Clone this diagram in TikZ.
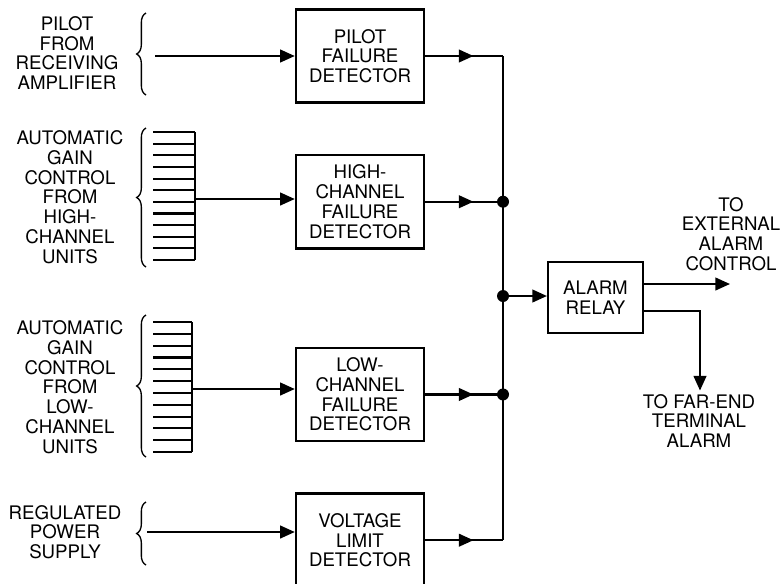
\documentclass[tikz,border=0pt]{standalone}
\usepackage{fontspec}
\setmainfont{TeX Gyre Heros}
\usetikzlibrary{positioning,arrows.meta,calc,decorations.pathreplacing,decorations.markings}

\begin{document}
\begin{tikzpicture}[x=0.75pt, y=-0.75pt, font=\fontsize{14}{14.8}\selectfont, line width=1.6pt,
  box/.style={draw, line width=1.8pt, align=center, minimum width=96pt, minimum height=70pt, inner sep=2pt},
  relaybox/.style={draw, line width=1.8pt, align=center, minimum width=71pt, minimum height=53pt, inner sep=2pt},
  lbl/.style={align=center, inner sep=2pt},
  arr/.style={-{Triangle[length=11pt, width=9.5pt]}},
  midarr/.style={postaction={decorate}, decoration={markings, mark=at position #1 with {\arrow{Triangle[length=11pt, width=9.5pt]}}}},
  brc/.style={decorate, decoration={brace, amplitude=7pt}, line width=1pt},
  jdot/.style={circle, fill, inner sep=0pt, minimum size=9pt}]
\useasboundingbox (0,0) rectangle (782,583);
% detectors
\node[box] (pilot) at (360,56) {PILOT\\FAILURE\\DETECTOR};
\node[box, below=37.5pt of pilot] (high) {HIGH-\\CHANNEL\\FAILURE\\DETECTOR};
\node[box, below=72.75pt of high] (low) {LOW-\\CHANNEL\\FAILURE\\DETECTOR};
\node[box, below=37.5pt of low] (volt) {VOLTAGE\\LIMIT\\DETECTOR};
\node[relaybox] (relay) at (595.5,297.5) {ALARM\\RELAY};
% sources
\node[lbl] (pilotsrc) at (67,53) {PILOT\\FROM\\RECEIVING\\AMPLIFIER};
\node[lbl] (highsrc) at (70,197) {AUTOMATIC\\GAIN\\CONTROL\\FROM\\HIGH-\\CHANNEL\\UNITS};
\node[lbl] (lowsrc) at (70,387) {AUTOMATIC\\GAIN\\CONTROL\\FROM\\LOW-\\CHANNEL\\UNITS};
\node[lbl] (voltsrc) at (65,532) {REGULATED\\POWER\\SUPPLY};
\node[lbl] (ext) at (731,234) {TO\\EXTERNAL\\ALARM\\CONTROL};
\node[lbl] (far) at (699,421) {TO FAR-END\\TERMINAL\\ALARM};
% braces and combs
\draw[brc] (146,95) -- (146,13);
\draw[brc] (146,267) -- (146,128);
\draw[brc] (146,457) -- (146,315);
\draw[brc] (146,565) -- (146,502);
\foreach \i in {0,...,11} {
  \draw (153,{132+\i*11.64}) -- (195,{132+\i*11.64});
  \draw (153,{322+\i*11.82}) -- (192,{322+\i*11.82});
}
\draw (195,132) -- (195,260);
\draw (192,322) -- (192,452);
\coordinate (pilotin) at (155,56);
\coordinate (highin) at (195,199);
\coordinate (lowin) at (192,389);
\coordinate (voltin) at (147,532);
\draw[arr] (pilotin) -- (pilotin -| pilot.west);
\draw[arr] (highin) -- (highin -| high.west);
\draw[arr] (lowin) -- (lowin -| low.west);
\draw[arr] (voltin) -- (voltin -| volt.west);
% bus
\coordinate (bus) at (503,296);
\draw[midarr=0.62] (pilot.east) -- (pilot.east -| bus);
\draw[midarr=0.62] (high.east) -- (high.east -| bus);
\draw[midarr=0.62] (low.east) -- (low.east -| bus);
\draw[midarr=0.62] (volt.east) -- (volt.east -| bus);
\draw (pilot.east -| bus) -- (volt.east -| bus);
\node[jdot] at (high.east -| bus) {};
\node[jdot] at (bus) {};
\node[jdot] at (low.east -| bus) {};
\draw[arr] (bus) -- (bus -| relay.west);
% outputs
\coordinate (extend) at (730,284);
\coordinate (farturn) at (700,311);
\draw[arr] (relay.east |- extend) -- (extend);
\draw[arr] (relay.east |- farturn) -- (farturn) -- (farturn |- far.north);
\end{tikzpicture}
\end{document}
